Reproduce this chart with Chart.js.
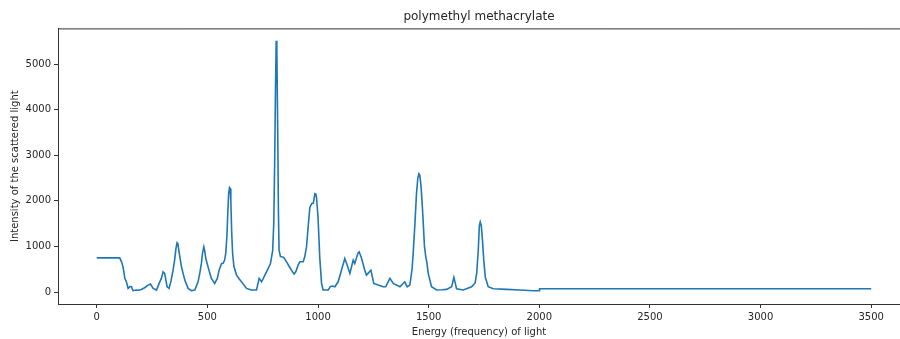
<!DOCTYPE html>
<html>
<head>
<meta charset="utf-8">
<title>polymethyl methacrylate</title>
<script src="https://cdn.jsdelivr.net/npm/chart.js@4/dist/chart.umd.min.js"></script>
<style>
  html, body { margin: 0; padding: 0; background: #fff; }
  #wrap { width: 900px; height: 339px; position: relative; }
</style>
</head>
<body>
<div id="wrap"><canvas id="spectrum"></canvas></div>
<script>
// Raman shift (x) and intensity (y)
const shift = [
  0, 104, 112, 119, 127, 134, 142, 150, 157, 164, 179, 190, 202, 218, 232, 243, 255, 270,
  282, 292, 300, 307, 318, 327, 336, 345, 352, 358, 363, 367, 372, 383, 398, 413, 428, 443, 458,
  466, 473, 478, 484, 488, 493, 503, 518, 533, 545, 553, 564, 571, 578, 583, 588, 592, 596,
  600, 603, 606, 610, 614, 620, 632, 645, 654, 677, 699, 722, 734, 740, 745, 760, 775, 785, 795,
  800, 804, 808, 811, 814, 818, 821, 824, 830, 835, 845, 858, 870, 880, 892, 900, 910, 918,
  933, 940, 948, 955, 963, 971, 979, 986, 990, 993, 1000, 1008, 1016, 1023, 1046, 1056, 1064,
  1076, 1091, 1106, 1121, 1132, 1144, 1159, 1166, 1181, 1186, 1197, 1210, 1219, 1239, 1252,
  1272, 1294, 1306, 1325, 1340, 1370, 1392, 1403, 1415, 1425, 1430, 1438, 1445, 1451, 1456,
  1460, 1465, 1470, 1475, 1481, 1487, 1492, 1498, 1513, 1536, 1560, 1581, 1604, 1614, 1620, 1626,
  1656, 1694, 1710, 1717, 1724, 1729, 1733, 1738, 1743, 1749, 1756, 1769, 1792, 1852, 1912, 1973,
  2000, 2001, 3500
];
const intensity = [
  750, 750, 663, 553, 300, 225, 80, 120, 115, 30, 44, 40, 58, 100, 153, 175, 80, 44,
  190, 300, 445, 408, 116, 80, 250, 480, 700, 950, 1078, 1050, 882, 553, 262, 80, 30, 44, 225,
  420, 627, 850, 990, 900, 736, 553, 300, 190, 300, 480, 627, 630, 700, 846, 1200, 1700, 2150,
  2290, 2270, 2000, 1300, 850, 560, 372, 280, 225, 80, 44, 44, 300, 260, 225, 372, 517, 627, 900,
  1500, 2800, 4500, 5510, 5300, 3500, 1800, 918, 780, 772, 760, 663, 560, 480, 393, 450, 590, 663,
  663, 772, 990, 1400, 1850, 1938, 1950, 2157, 2150, 2083, 1646, 750, 190, 44, 44, 120, 131,
  116, 225, 480, 736, 590, 408, 700, 627, 860, 882, 736, 500, 372, 480, 190,
  153, 116, 116, 300, 190, 116, 225, 116, 153, 500, 846, 1500, 2157, 2500, 2594,
  2560, 2350, 2000, 1574, 1000, 772, 650, 408, 116, 44, 50, 58, 116, 321, 200, 72,
  44, 116, 200, 408, 900, 1450, 1537, 1450, 1150, 700, 330, 116, 72, 58, 44, 30,
  30, 72, 72
];

const xTicks = [0, 500, 1000, 1500, 2000, 2500, 3000, 3500];
const yTicks = [0, 1000, 2000, 3000, 4000, 5000];

const points = shift.map((x, i) => ({ x: x, y: intensity[i] }));

const axisColor = '#333';
const textColor = '#262626';
const font = { family: 'DejaVu Sans', size: 10 };

// top spine (matplotlib frame)
const topSpine = {
  id: 'topSpine',
  afterDraw(chart) {
    const { ctx, chartArea } = chart;
    ctx.save();
    ctx.strokeStyle = axisColor;
    ctx.lineWidth = 1;
    ctx.beginPath();
    ctx.moveTo(chartArea.left, chartArea.top + 0.5);
    ctx.lineTo(chartArea.right, chartArea.top + 0.5);
    ctx.stroke();
    ctx.restore();
  }
};

new Chart(document.getElementById('spectrum'), {
  type: 'line',
  data: {
    datasets: [{
      data: points,
      borderColor: '#1f77b4',
      borderWidth: 1.6,
      pointRadius: 0,
      tension: 0,
      fill: false
    }]
  },
  options: {
    responsive: true,
    maintainAspectRatio: false,
    animation: false,
    devicePixelRatio: 1,
    layout: { padding: { left: 0, right: 0, top: 0, bottom: 0 } },
    plugins: {
      legend: { display: false },
      tooltip: { enabled: false },
      title: {
        display: true,
        text: 'polymethyl methacrylate',
        fullSize: false,
        color: textColor,
        font: { family: 'DejaVu Sans', size: 12, weight: 'normal' },
        padding: { top: 10, bottom: 4 }
      }
    },
    scales: {
      x: {
        type: 'linear',
        min: -175,
        max: 3630,
        afterBuildTicks: s => { s.ticks = xTicks.map(v => ({ value: v })); },
        afterFit: s => { s.height = 35; },
        ticks: {
          color: textColor,
          font: font,
          padding: 3,
          maxRotation: 0,
          callback: v => String(v)
        },
        grid: { drawOnChartArea: false, drawTicks: true, tickLength: 4, color: axisColor },
        border: { display: true, color: axisColor, width: 1 },
        title: {
          display: true,
          text: 'Energy (frequency) of light',
          color: textColor,
          font: font,
          padding: { top: 0, bottom: 1 }
        }
      },
      y: {
        type: 'linear',
        min: -262,
        max: 5781,
        afterBuildTicks: s => { s.ticks = yTicks.map(v => ({ value: v })); },
        afterFit: s => { s.width = 58; },
        ticks: {
          color: textColor,
          font: font,
          padding: 3,
          callback: v => String(v)
        },
        grid: { drawOnChartArea: false, drawTicks: true, tickLength: 4, color: axisColor },
        border: { display: true, color: axisColor, width: 1 },
        title: {
          display: true,
          text: 'Intensity of the scattered light',
          color: textColor,
          font: font,
          padding: { top: 9, bottom: 0 }
        }
      }
    }
  },
  plugins: [topSpine]
});
</script>
</body>
</html>
